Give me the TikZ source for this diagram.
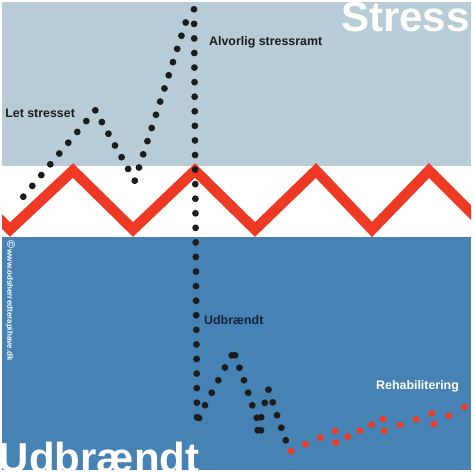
\documentclass[tikz,border=0pt]{standalone}
\usepackage{fontspec}
\setmainfont{Liberation Sans}
\usetikzlibrary{positioning}
\definecolor{paleblue}{RGB}{184,204,216}
\definecolor{deepblue}{RGB}{70,130,180}
\definecolor{zigred}{RGB}{238,58,36}
\definecolor{ink}{RGB}{28,28,28}
\definecolor{navy}{RGB}{20,36,58}
\colorlet{stresszone}{paleblue}
\colorlet{burnzone}{deepblue}

\begin{document}
\begin{tikzpicture}[x=1pt,y=-1pt,
    lab/.style={anchor=base west,inner sep=0pt,font=\bfseries\fontsize{12.4}{14}\selectfont},
    big/.style={anchor=base west,inner sep=0pt,white,font=\bfseries\fontsize{42}{44}\selectfont},
    blot/.style={fill=ink},
    redblot/.style={fill=zigred}]
    \useasboundingbox (0,0) rectangle (474,474);
    % the two zones
    \fill[stresszone] (2,2) rectangle (471,166);
    \fill[burnzone] (2,237) rectangle (471,470);
    % the red zigzag in between
    \begin{scope}
      \clip (2,140) rectangle (471,260);
      \draw[zigred,line width=10.5pt,miter limit=4]
        (-50,170.5) -- (10,229.5) -- (73,170.5) -- (133,229.5) -- (195,170.5)
        -- (255,229.5) -- (316,170.5) -- (372,229.5) -- (429,170.5) -- (488,229.5);
    \end{scope}
    % dotted course
    \foreach \k in {0,...,8}
      \fill[blot] (23.3+9*\k,196.7-10.8*\k) circle[radius=3.4pt];
    \foreach \k in {1,...,6}
      \fill[blot] (95.3+6.57*\k,110.3+11.73*\k) circle[radius=3.4pt];
    \foreach \k in {1,...,12}
      \fill[blot] (134.7+4.25*\k,180.7-13.18*\k) circle[radius=3.4pt];
    \foreach \k in {0,...,28}
      \fill[blot] (194+3*\k/28,9.3+14.57*\k) circle[radius=3.4pt];
    \foreach \x/\y in {199/418,205/405.3,211.7/392.7,218.3/380.3,224.9/367.5,
      231.7/355.3,235/355.3,239.5/367.7,244/380.3,248.2/392.7,252.3/405.3,
      256.8/417.8,261.2/417.2,257.7/430.2,261/430.3,264.8/402.8,268.5/389.7,
      272.7/402.3,277/415.2,281.3/427.7,285.8/440.3}
      \fill[blot] (\x,\y) circle[radius=3.4pt];
    \foreach \x/\y in {291/451,305.3/444.3,320.3/437.7,335/431,335.7/442.7,
      347.7/436.7,360/430.7,371.7/424.7,383/419,384/430.7,400/425,416/419.3,
      431.7/413.3,433.7/424,448.7/415.7,464.3/407}
      \fill[redblot] (\x,\y) circle[radius=3.4pt];
    % labels
    \node[lab,ink] (mild) at (5.1,117.3) {Let stresset};
    \node[lab,ink] (severe) at (209,45.7) {Alvorlig stressramt};
    \node[lab,navy] (burnt) at (204,324.3) {Udbrændt};
    \node[lab,white] (rehab) at (376,389.3) {Rehabilitering};
    \node[big] (stresstitle) at (341,31.7) {Stress};
    \node[big] (burnttitle) at (-1.4,472.3) {Udbrændt};
    \node[rotate=-90,anchor=west,inner sep=0pt,white,font=\bfseries\fontsize{8}{9}\selectfont]
      (credit) at (10.3,240) {{\fontsize{11}{11}\selectfont\textcopyright}\,www.odsherredterapihave.dk};
\end{tikzpicture}
\end{document}
